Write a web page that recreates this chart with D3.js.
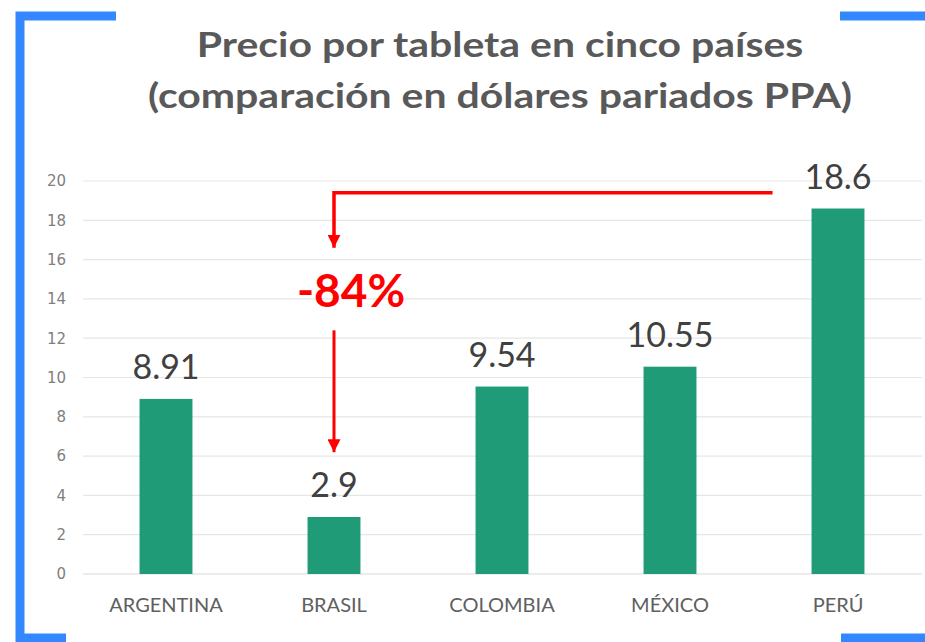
<!DOCTYPE html>
<html>
<head>
<meta charset="utf-8">
<script src="https://cdn.jsdelivr.net/npm/d3@7"></script>
<style>
 body { margin: 0; background: #fff; }
 svg { display: block; }
</style>
</head>
<body>
<script>
// data
var countries = ["ARGENTINA", "BRASIL", "COLOMBIA", "MÉXICO", "PERÚ"];
var prices = [8.91, 2.9, 9.54, 10.55, 18.6];
var valueLabels = ["8.91", "2.9", "9.54", "10.55", "18.6"];
var yTicks = [0, 2, 4, 6, 8, 10, 12, 14, 16, 18, 20];
var titleLines = ["Precio por tableta en cinco países", "(comparación en dólares pariados PPA)"];

var width = 925, height = 642;
var blue = "#3388ff", red = "#ff0000", green = "#1f9b77";

var svg = d3.select("body").append("svg")
 .attr("width", width)
 .attr("height", height);

// blue corner brackets
svg.append("path")
 .attr("d", "M20,642 V16 H116")
 .attr("fill", "none").attr("stroke", blue).attr("stroke-width", 9);
svg.append("path")
 .attr("d", "M840,16 H930")
 .attr("fill", "none").attr("stroke", blue).attr("stroke-width", 9);
svg.append("path")
 .attr("d", "M20,638 H66")
 .attr("fill", "none").attr("stroke", blue).attr("stroke-width", 9);
svg.append("path")
 .attr("d", "M841,638 H930")
 .attr("fill", "none").attr("stroke", blue).attr("stroke-width", 9);

// title (slightly widened glyphs, like the original)
svg.selectAll(".title")
 .data(titleLines)
 .enter().append("text")
 .attr("class", "title")
 .attr("transform", function(d, i) { return "translate(500," + (57 + i * 51) + ") scale(1.17,1)"; })
 .attr("text-anchor", "middle")
 .attr("font-family", "Lato, sans-serif")
 .attr("font-weight", "bold")
 .attr("font-size", 35)
 .attr("fill", "#595959")
 .text(function(d) { return d; });

var x = d3.scaleBand()
 .domain(countries)
 .range([82, 922])
 .paddingInner(0.685)
 .paddingOuter(0.3425);

var y = d3.scaleLinear()
 .domain([0, 20])
 .range([574, 181]);

// gridlines
svg.selectAll(".grid")
 .data(yTicks)
 .enter().append("line")
 .attr("x1", 83).attr("x2", 922)
 .attr("y1", function(d) { return y(d); })
 .attr("y2", function(d) { return y(d); })
 .attr("stroke", function(d) { return d === 0 ? "#d9d9d9" : "#e6e6e6"; })
 .attr("stroke-width", 1.2);

// y axis labels
var yAxis = d3.axisLeft(y).tickValues(yTicks).tickSize(0).tickPadding(0);
var ga = svg.append("g")
 .attr("transform", "translate(66,0)")
 .call(yAxis);
ga.select(".domain").remove();
ga.selectAll("text")
 .attr("font-family", "'DejaVu Sans', sans-serif")
 .attr("font-size", 15)
 .attr("fill", "#808080");

// x axis labels
var xAxis = d3.axisBottom(x).tickSize(0).tickPadding(0);
var gx = svg.append("g")
 .attr("transform", "translate(0,598)")
 .call(xAxis);
gx.select(".domain").remove();
gx.selectAll("text")
 .attr("font-family", "Lato, sans-serif")
 .attr("font-size", 20)
 .attr("fill", "#606060");

// bars
svg.selectAll(".bar")
 .data(prices)
 .enter().append("rect")
 .attr("class", "bar")
 .attr("x", function(d, i) { return x(countries[i]); })
 .attr("width", x.bandwidth())
 .attr("y", function(d) { return y(d); })
 .attr("height", function(d) { return y(0) - y(d); })
 .attr("fill", green);

// value labels
svg.selectAll(".val")
 .data(prices)
 .enter().append("text")
 .attr("class", "val")
 .attr("x", function(d, i) { return x(countries[i]) + x.bandwidth() / 2; })
 .attr("y", function(d) { return y(d) - 20; })
 .attr("text-anchor", "middle")
 .attr("font-family", "Lato, sans-serif")
 .attr("font-size", 34)
 .attr("fill", "#404040")
 .text(function(d, i) { return valueLabels[i]; });

// annotation: drop from Perú to Brasil
var defs = svg.append("defs");
defs.append("marker")
 .attr("id", "arrow")
 .attr("viewBox", "0 0 10 10")
 .attr("refX", 10).attr("refY", 5)
 .attr("markerUnits", "userSpaceOnUse")
 .attr("markerWidth", 13).attr("markerHeight", 13)
 .attr("orient", "auto")
 .append("path")
 .attr("d", "M0,0 L10,5 L0,10 Z")
 .attr("fill", red);

var bx = x("BRASIL") + x.bandwidth() / 2;
var px = x("PERÚ") - 39;
var line = d3.line();

svg.append("path")
 .attr("d", line([[px, y(19.4)], [bx, y(19.4)], [bx, y(16.6)]]))
 .attr("fill", "none")
 .attr("stroke", red)
 .attr("stroke-width", 3.5)
 .attr("marker-end", "url(#arrow)");

svg.append("path")
 .attr("d", line([[bx, y(12.4)], [bx, y(6.2)]]))
 .attr("fill", "none")
 .attr("stroke", red)
 .attr("stroke-width", 3)
 .attr("marker-end", "url(#arrow)");

var change = (prices[1] - prices[4]) / prices[4];
svg.append("text")
 .attr("x", bx + 17)
 .attr("y", y(13.6))
 .attr("text-anchor", "middle")
 .attr("font-family", "Lato, sans-serif")
 .attr("font-weight", "bold")
 .attr("font-size", 46)
 .attr("fill", red)
 .text(d3.format(".0%")(change).replace("−", "-"));
</script>
</body>
</html>
